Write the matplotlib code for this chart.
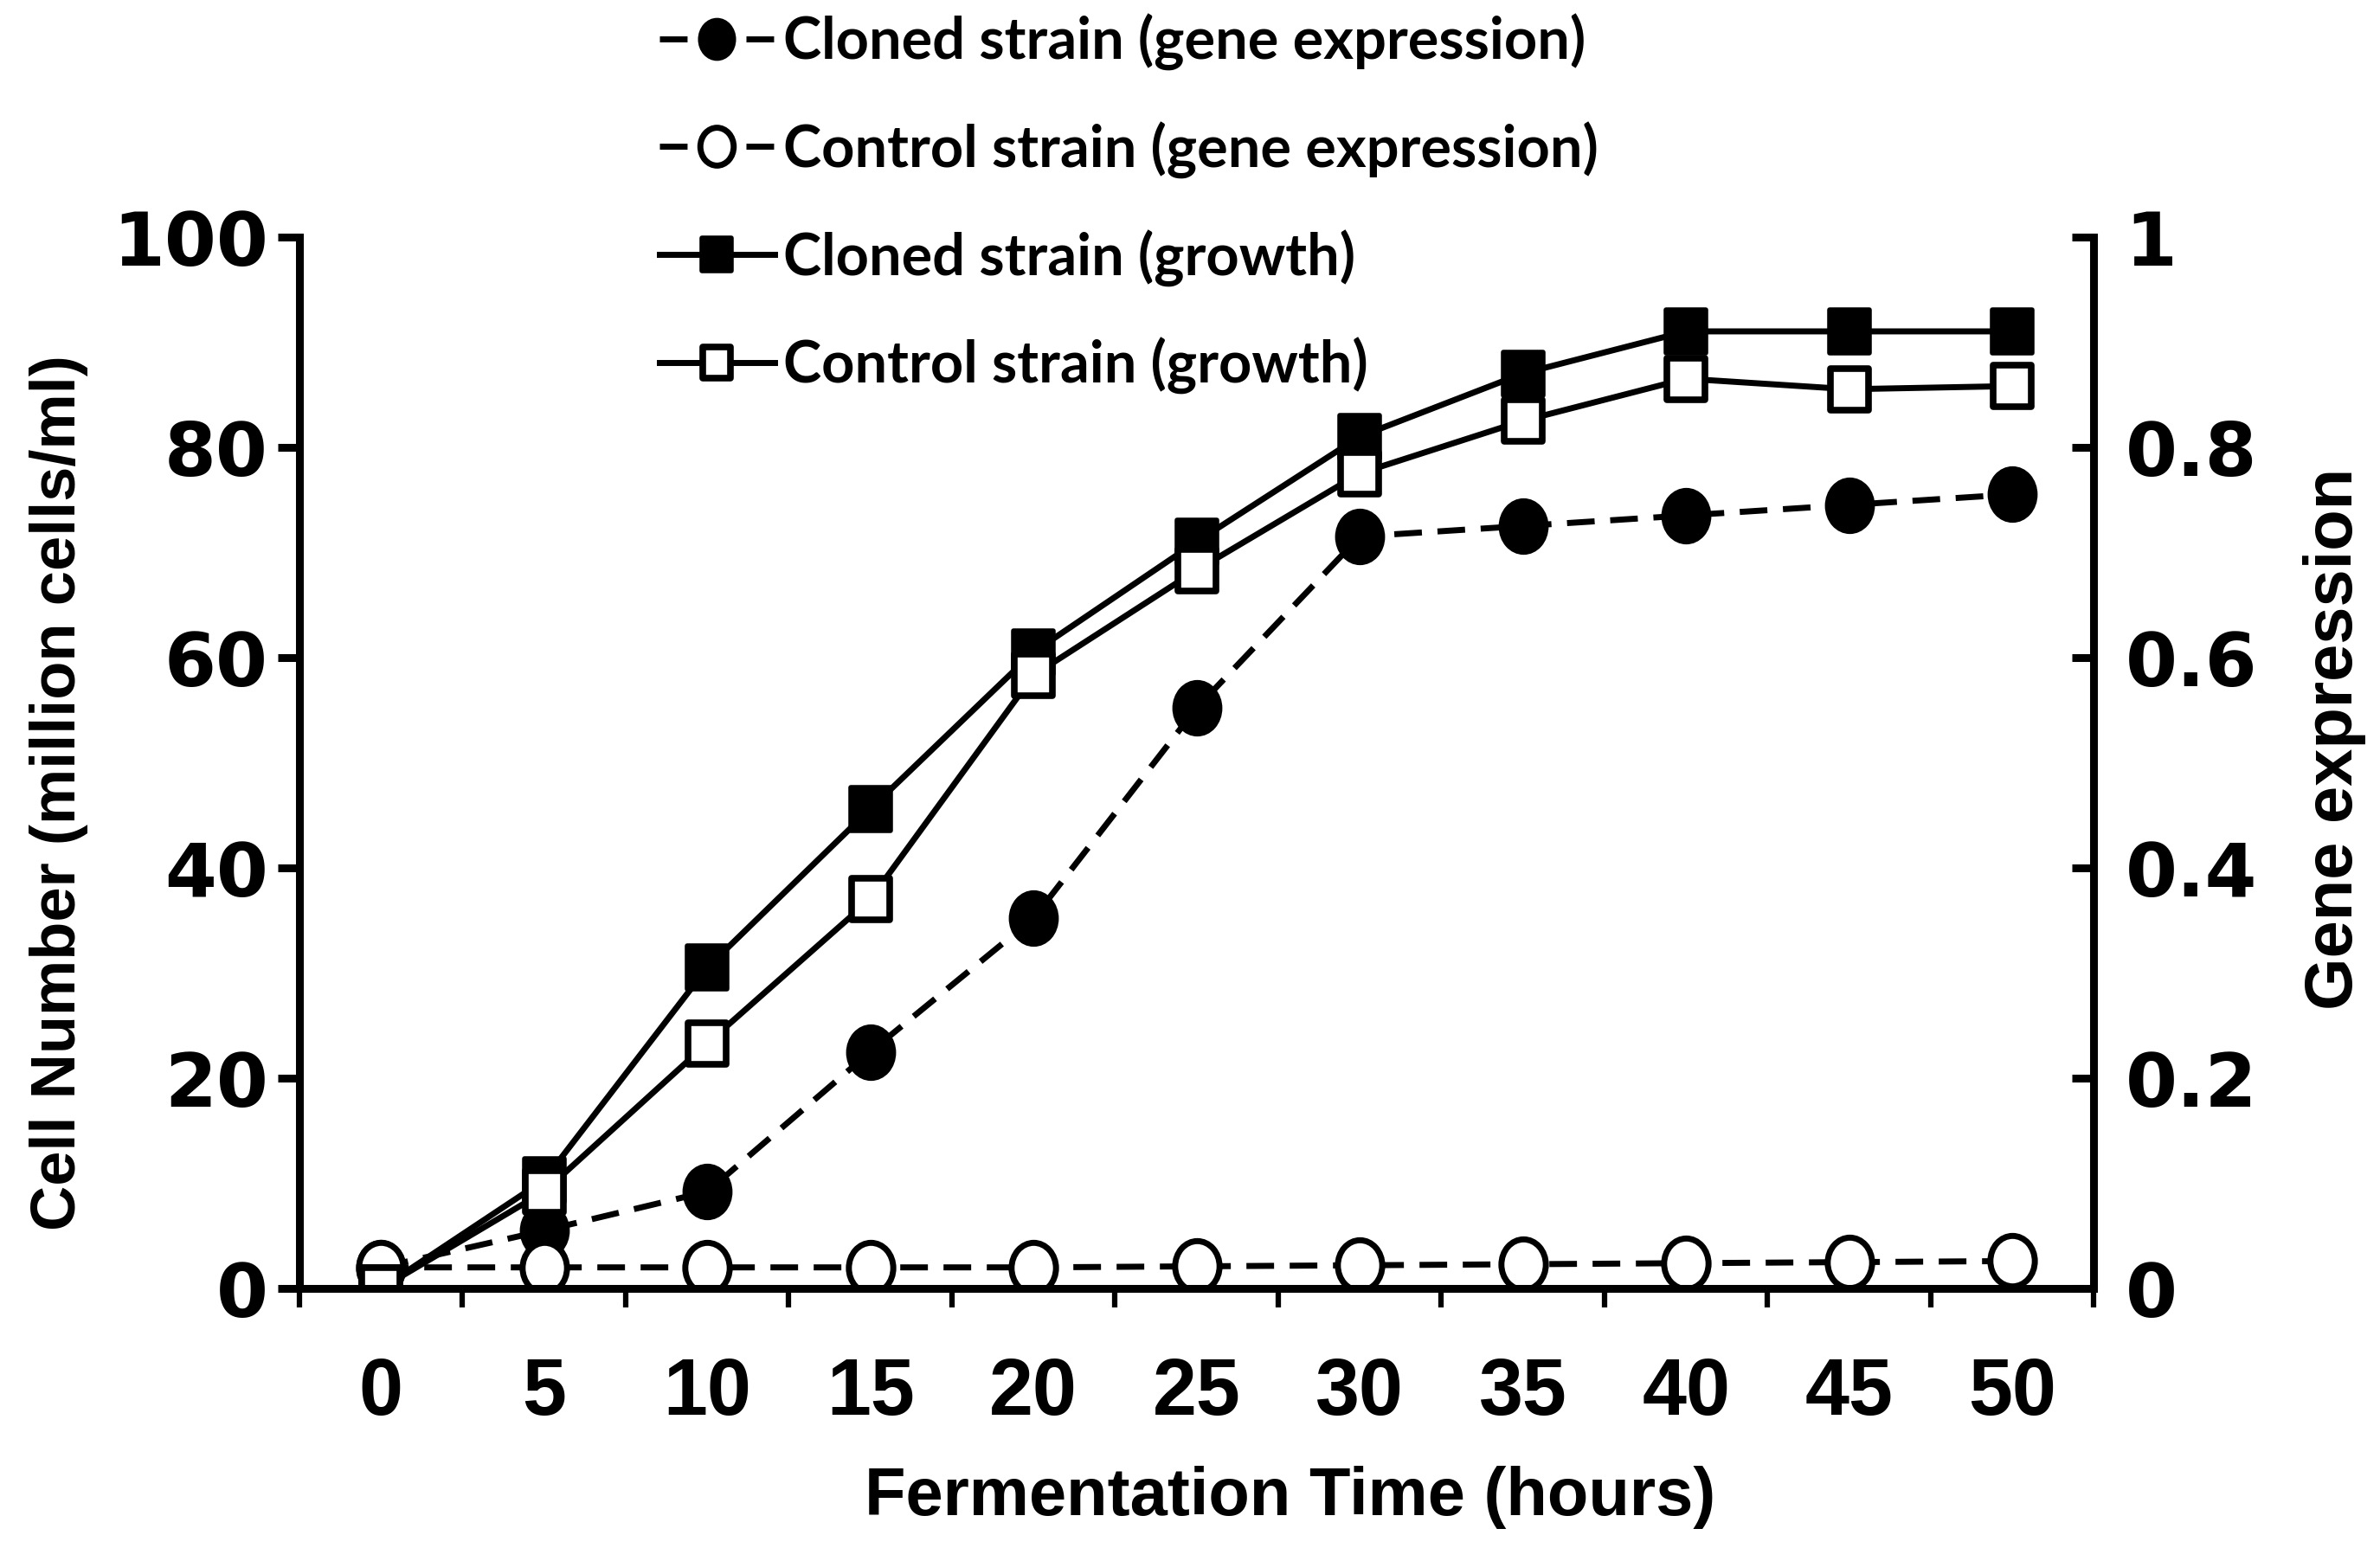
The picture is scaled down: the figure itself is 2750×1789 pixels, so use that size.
import matplotlib
matplotlib.use("Agg")
import matplotlib.pyplot as plt
from matplotlib.path import Path
from matplotlib.transforms import Affine2D

# ---------------- data ----------------
hours = [0, 5, 10, 15, 20, 25, 30, 35, 40, 45, 50]
x_tick_labels = ["0", "5", "10", "15", "20", "25", "30", "35", "40", "45", "50"]
cloned_growth = [0, 10.3, 30.5, 45.6, 60.5, 71.0, 81.0, 87.0, 91.0, 91.0, 91.0]
control_growth = [0, 9.2, 23.3, 37.0, 58.3, 68.3, 77.5, 82.5, 86.5, 85.5, 85.8]
cloned_gene = [0.02, 0.055, 0.092, 0.225, 0.352, 0.552, 0.715, 0.725, 0.735, 0.745, 0.755]
control_gene = [0.02, 0.02, 0.02, 0.02, 0.02, 0.021, 0.022, 0.023, 0.024, 0.025, 0.026]
left_ticks = [0, 20, 40, 60, 80, 100]
left_tick_labels = ["0", "20", "40", "60", "80", "100"]
right_ticks = [0, 0.2, 0.4, 0.6, 0.8, 1.0]
right_tick_labels = ["0", "0.2", "0.4", "0.6", "0.8", "1"]
between_ticks = [-2.5, 2.5, 7.5, 12.5, 17.5, 22.5, 27.5, 32.5, 37.5, 42.5, 47.5, 52.5]

labels = ["Cloned strain (gene expression)", "Control strain (gene expression)",
          "Cloned strain (growth)", "Control strain (growth)"]

# ---------------- style ----------------
NARROW = ["Lato", "Liberation Sans", "DejaVu Sans"]
WIDE = ["DejaVu Sans"]
ARIAL = ["Liberation Sans", "DejaVu Sans"]

ellipse = Path.unit_circle().transformed(Affine2D().scale(0.88, 1.0))
rect = Path.unit_rectangle().transformed(Affine2D().translate(-0.5, -0.5).scale(0.93, 1.0))

LW = 5.0
SPW = 6.5
dash = (0, (4.6, 2.6))

fig = plt.figure(figsize=(27.5, 17.9), dpi=100)
ax = fig.add_axes([0.1258, 0.1676, 0.754, 0.679])
ax2 = ax.twinx()
ax.set_zorder(2)
ax2.set_zorder(1)
ax.patch.set_visible(False)

# gene expression on the right axis
l1, = ax2.plot(hours, cloned_gene, color="black", lw=LW, linestyle=dash,
               marker=ellipse, ms=45, mfc="black", mec="black", mew=2)
l2, = ax2.plot(hours, control_gene, color="black", lw=LW, linestyle=dash,
               marker=ellipse, ms=42, mfc="white", mec="black", mew=5)
# growth on the left axis
l3, = ax.plot(hours, cloned_growth, color="black", lw=LW, linestyle="-",
              marker=rect, ms=36, mfc="black", mec="black", mew=4)
l4, = ax.plot(hours, control_growth, color="black", lw=LW, linestyle="-",
              marker=rect, ms=34, mfc="white", mec="black", mew=5.5)

ax.set_xlim(-2.5, 52.5)
ax.set_ylim(0, 100)
ax2.set_ylim(0, 1)

for s in ["top", "right"]:
    ax.spines[s].set_visible(False)
for s in ["top", "left", "bottom"]:
    ax2.spines[s].set_visible(False)
ax.spines["left"].set_linewidth(SPW)
ax.spines["bottom"].set_linewidth(SPW)
ax2.spines["right"].set_linewidth(SPW)

# x ticks: marks between categories, labels at categories
ax.set_xticks(between_ticks)
ax.set_xticklabels([])
ax.set_xticks(hours, minor=True)
ax.set_xticklabels(x_tick_labels, minor=True)
ax.tick_params(axis="x", which="major", direction="out", length=16, width=4.5)
ax.tick_params(axis="x", which="minor", length=0, pad=56)
for t in ax.get_xticklabels(minor=True):
    t.set_family(ARIAL)
    t.set_fontweight("bold")
    t.set_fontsize(66)

ax.set_yticks(left_ticks)
ax.set_yticklabels(left_tick_labels)
ax.tick_params(axis="y", direction="out", length=18, width=SPW, pad=8)
for t in ax.get_yticklabels():
    t.set_family(WIDE)
    t.set_fontweight("bold")
    t.set_fontsize(62)

ax2.set_yticks(right_ticks)
ax2.set_yticklabels(right_tick_labels)
ax2.tick_params(axis="y", direction="in", length=18, width=SPW, pad=26)
for t in ax2.get_yticklabels():
    t.set_family(WIDE)
    t.set_fontweight("bold")
    t.set_fontsize(62)

ax.set_xlabel("Fermentation Time (hours)", family=ARIAL, fontweight="bold", fontsize=56)
ax.xaxis.set_label_coords(0.552, -0.168)
ax.set_ylabel("Cell Number (million cells/ml)", family=ARIAL, fontweight="bold", fontsize=52)
ax.yaxis.set_label_coords(-0.1176, 0.472)
ax2.set_ylabel("Gene expression", family=ARIAL, fontweight="bold", fontsize=56)
ax2.yaxis.set_label_coords(1.1167, 0.523)

leg = ax.legend([l1, l2, l3, l4], labels, loc="upper left",
                bbox_to_anchor=(0.277, 0.991), bbox_transform=fig.transFigure,
                frameon=False, borderpad=0, borderaxespad=0,
                handlelength=2.0, handletextpad=0.15, labelspacing=0.88,
                prop={"family": NARROW, "weight": "bold", "size": 48},
                markerscale=0.75)

fig.savefig("out.png", dpi=100)
